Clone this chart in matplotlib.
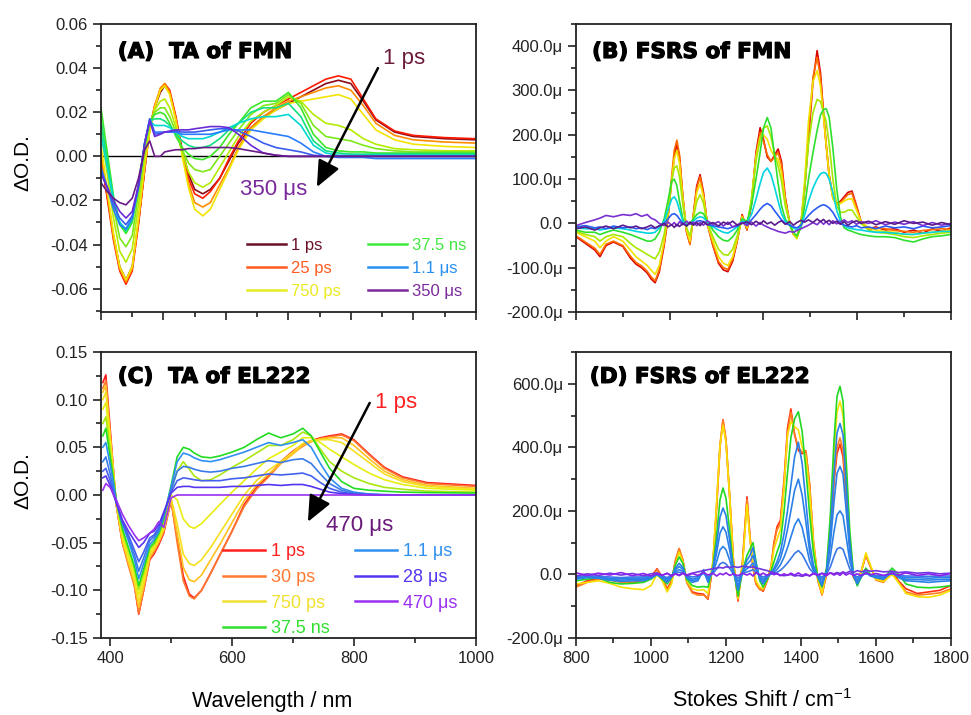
import numpy as np
import matplotlib.pyplot as plt
import matplotlib.patheffects as pe
from matplotlib.lines import Line2D
from matplotlib.ticker import MultipleLocator, FormatStrFormatter, FuncFormatter

plt.rcParams['font.family'] = ['Liberation Sans', 'DejaVu Sans']
plt.rcParams['axes.unicode_minus'] = False

# -----------------------------
# (A) TA of FMN, values in mOD
# -----------------------------
A_WL = [400, 410, 420, 430, 440, 450, 460, 470, 478, 486, 495, 502, 510, 520, 530, 540, 550,
        563, 575, 590, 605, 620, 640, 660, 680, 700, 720, 740, 760, 780, 800, 820, 840, 870,
        900, 950, 1000]
A_1ps = [-2, -18, -36, -50, -56, -50, -30, -6, 12, 22, 29, 32, 29, 17, 3, -8, -15, -17, -15, -10,
         -2, 6, 13, 18, 21, 24, 27, 30, 33, 34.5, 33, 25, 16.5, 11, 9, 8, 7.5]
A_25ps = [0, -19, -38, -52, -58, -52, -31, -6, 13, 23, 30, 33, 30, 18, 2, -10, -17, -19, -16, -10,
          -1, 7, 15, 20, 23, 26, 29, 32, 35, 36.5, 35, 26, 17, 11.5, 9.5, 8.5, 8]
A_200ps = [2, -17, -37, -51, -57, -51, -30, -5, 12, 23, 31, 33, 29, 17, 1, -12, -21, -23, -21, -13,
           -5, 4, 13, 18, 22, 25, 27, 29, 31, 32, 30, 23, 15, 9.5, 7.5, 6.5, 6]
A_750ps = [5, -15, -35, -50, -56, -50, -28, -4, 11, 22, 30, 32, 28, 16, 0, -14, -24, -27, -24, -15,
           -6, 3, 12, 17, 21, 24, 25, 26, 27, 28, 26, 19, 12, 7.5, 5.5, 4.5, 4]
A_5ns = [12, -8, -28, -43, -48, -42, -22, 0, 14, 21, 25, 26, 22, 13, 2, -7, -12, -14, -12, -5,
         2, 9, 16, 20, 23, 27, 25, 19, 15, 14, 12, 8, 5.5, 3.5, 3, 2.5, 2.5]
A_15ns = [17, -3, -23, -37, -41, -36, -17, 3, 15, 20, 22, 22, 18, 11, 3, -3, -6, -7, -6, 0,
          6, 12, 19, 23, 24, 28, 24, 14, 9, 8, 7, 5, 3.5, 2.5, 2, 2, 2]
A_37ns = [22, 2, -18, -31, -35, -30, -13, 6, 16, 19, 20, 19, 15, 9, 4, 1, -1, -1.5, 0, 4,
          10, 15, 22, 25, 25, 29, 22, 10, 4, 2.5, 2, 2, 1.5, 1.5, 1.5, 1.5, 1.5]
A_100ns = [16, -2, -19, -30, -34, -29, -13, 6, 16, 17, 17, 16, 14, 10, 7, 5, 4, 4, 5, 8,
           12, 15, 20, 22, 22, 24, 18, 7, 2.5, 1.5, 1, 1, 1, 1, 1, 1, 1]
A_300ns = [10, -5, -20, -30, -33, -28, -13, 6, 16, 14, 14, 14, 13, 11, 9, 8, 8, 8, 9, 11,
           13, 15, 17, 18, 18, 19, 14, 5, 1.5, 0.5, 0.5, 0.5, 0.5, 0.5, 0.5, 0.5, 0.5]
A_1us = [-5, -14, -24, -31, -33, -28, -14, 6, 17, 11, 11, 11, 11, 11, 10, 10, 10, 10, 10, 11,
         12, 12, 12, 11, 10, 9, 6, 2, 0, -0.5, -0.5, -0.5, -1, -1, -1, -1, -1]
A_3us = [-7, -14, -22, -28, -31, -27, -14, 6, 17, 10, 10.5, 11, 11, 11.5, 11, 11, 11, 11.5, 12, 12.5,
         12.5, 11.5, 9, 6, 4, 3, 2, 0.5, 0, 0, 0, 0, 0, 0, 0, 0, 0]
A_350us = [-8, -14, -20, -25, -28, -25, -13, 6, 16, 9, 10, 11, 11.5, 12, 12, 12, 12.5, 13, 13.5, 13.5,
           13, 10, 5, 1.5, 0.5, 0, 0, 0, 0, 0, 0, 0, 0, 0, 0, 0, 0]
A_late = [-12, -16, -19, -21, -22, -19, -10, 3, 7, 0, 0, 2, 2.5, 3, 3, 3.5, 3.5, 4, 4, 4,
          4, 3.5, 2.5, 1.5, 0.5, 0, 0, 0, 0, 0, 0, 0, 0, 0, 0, 0, 0]
A_SERIES = [A_1ps, A_25ps, A_200ps, A_750ps, A_5ns, A_15ns, A_37ns, A_100ns, A_300ns, A_1us,
            A_3us, A_350us, A_late]
A_COLORS = ['#8b0a1a', '#ff1a00', '#ff8c00', '#f2e400', '#b4ec00', '#7ce818', '#3ce628',
            '#10e080', '#00d8d0', '#2a7cff', '#3a5cf0', '#6a2ad8', '#6a1a86']
A_LEG_LABELS = ['1 ps', '25 ps', '750 ps', '37.5 ns', '1.1 μs', '350 μs']
A_LEG_COLORS = ['#6b1028', '#ff5a20', '#eaea20', '#40e840', '#2890f0', '#7a2a9a']

# -----------------------------
# (C) TA of EL222, values in mOD
# -----------------------------
C_WL = [388, 393, 400, 410, 420, 430, 440, 447, 455, 465, 472, 480, 488, 500, 510, 520, 530, 538,
        550, 565, 580, 600, 620, 640, 660, 680, 700, 716, 730, 745, 760, 780, 800, 825, 850, 880,
        920, 1000]
C_1ps = [118, 126, 70, -10, -50, -72, -95, -125, -100, -68, -62, -52, -40, -6, -45, -85, -104, -108,
         -100, -82, -63, -38, -10, 8, 20, 35, 46, 53, 57, 60, 62, 64, 58, 43, 29, 19, 13, 10]
C_30ps = [112, 120, 65, -10, -50, -74, -96, -124, -100, -67, -60, -50, -38, -5, -50, -90, -106, -109,
          -100, -82, -63, -38, -12, 6, 19, 33, 44, 51, 56, 59, 61, 63, 57, 42, 28, 18, 12, 9]
C_200ps = [108, 115, 62, -9, -48, -71, -93, -118, -96, -65, -58, -49, -37, -4, -40, -76, -89, -91,
           -84, -68, -52, -29, -6, 10, 22, 33, 43, 52, 56, 59, 60, 60, 52, 38, 25, 16, 10, 7]
C_750ps = [100, 108, 60, -8, -45, -68, -90, -112, -92, -62, -56, -47, -35, -3, -30, -62, -72, -74,
           -68, -55, -40, -20, 0, 15, 26, 35, 45, 54, 57, 58, 58, 55, 46, 34, 22, 14, 9, 6]
C_3ns = [90, 97, 55, -7, -42, -63, -84, -105, -87, -60, -54, -45, -32, 0, -5, -25, -33, -35,
         -30, -20, -10, 3, 15, 27, 38, 45, 52, 60, 60, 55, 48, 40, 32, 23, 16, 11, 7, 5]
C_10ns = [75, 82, 47, -6, -38, -58, -78, -99, -82, -57, -52, -42, -28, 5, 25, 35, 27, 20,
          15, 16, 21, 29, 36, 44, 52, 52, 58, 66, 62, 48, 35, 25, 18, 12, 8, 6, 4, 3]
C_37ns = [62, 70, 40, -5, -35, -55, -75, -95, -78, -55, -50, -40, -25, 10, 40, 50, 48, 44,
          40, 39, 41, 45, 50, 58, 65, 60, 64, 70, 62, 45, 28, 14, 7, 5, 4, 3, 2.5, 2]
C_1us = [50, 55, 32, -5, -30, -48, -68, -88, -72, -52, -47, -38, -22, 8, 35, 44, 42, 39,
         36, 35, 37, 41, 45, 50, 55, 52, 55, 58, 50, 33, 18, 7, 3, 1, 0.5, 0, 0, 0]
C_5us = [35, 40, 22, -7, -29, -45, -63, -80, -66, -48, -44, -36, -21, 5, 25, 30, 29, 27,
         25, 24, 25, 28, 30, 33, 36, 34, 37, 38, 33, 22, 12, 5, 2, 1, 0, 0, 0, 0]
C_12us = [25, 28, 15, -8, -28, -42, -58, -70, -60, -45, -42, -34, -20, 3, 15, 18, 17, 16,
          15, 15, 15, 17, 18, 20, 22, 21, 22, 23, 20, 13, 7, 3, 1, 0.5, 0, 0, 0, 0]
C_28us = [18, 20, 10, -8, -26, -38, -48, -55, -50, -40, -38, -31, -18, 2, 8, 9, 9, 8,
          8, 8, 8, 9, 9, 10, 11, 10, 11, 11, 9, 6, 3, 1.5, 0.5, 0, 0, 0, 0, 0]
C_470us = [5, 12, 8, -5, -20, -32, -42, -48, -45, -40, -36, -28, -34, -3, 0, 0, 0, 0,
           0, 0, 0, 0, 0, 0, 0, 0, 0, 0, 0, 0, 0, 0, 0, 0, 0, 0, 0, 0]
C_SERIES = [C_1ps, C_30ps, C_200ps, C_750ps, C_3ns, C_10ns, C_37ns, C_1us, C_5us, C_12us,
            C_28us, C_470us]
C_COLORS = ['#ff1a1a', '#ff7a30', '#ffc020', '#f5e020', '#e8ee10', '#a8e810', '#22dc22',
            '#3090f0', '#3a7ae8', '#4460ee', '#5535f0', '#9a30f0']
C_LEG_LABELS = ['1 ps', '30 ps', '750 ps', '37.5 ns', '1.1 μs', '28 μs', '470 μs']
C_LEG_COLORS = ['#ff2020', '#ff7a30', '#f0e030', '#30e030', '#3090f0', '#5535f0', '#9a30f0']

# -----------------------------
# (B) FSRS of FMN, values in micro-units
# -----------------------------
B_SHIFT = [800, 825, 850, 864, 880, 900, 925, 945, 960, 975, 990, 1000, 1011, 1022, 1035, 1045,
           1055, 1062, 1069, 1076, 1085, 1095, 1104, 1113, 1122, 1131, 1140, 1150, 1165, 1180,
           1193, 1205, 1218, 1230, 1243, 1256, 1268, 1280, 1291, 1300, 1310, 1320, 1330, 1339,
           1348, 1358, 1370, 1380, 1389, 1400, 1410, 1420, 1432, 1443, 1452, 1460, 1467, 1475,
           1485, 1495, 1505, 1515, 1525, 1536, 1548, 1560, 1580, 1600, 1625, 1650, 1675, 1700,
           1725, 1750, 1775, 1800]
B_red = [-30, -45, -60, -75, -50, -42, -52, -78, -92, -100,
         -112, -125, -134, -110, -50, 10, 95, 150, 178, 150,
         60, -20, -45, 20, 85, 110, 70, 0, -50, -90,
         -105, -109, -85, -40, 20, -15, 45, 160, 216, 190,
         150, 140, 155, 168, 140, 60, 0, -25, -30, 0,
         80, 190, 320, 390, 340, 250, 180, 110, 60, 45,
         50, 60, 70, 73, 40, 5, -12, -8, -15, -12,
         -20, -15, -22, -12, -18, -10]
B_orange = [-28, -42, -56, -70, -47, -40, -50, -74, -88, -96,
            -108, -120, -130, -105, -45, 15, 105, 165, 188, 155,
            58, -20, -48, 18, 80, 105, 65, 0, -48, -86,
            -100, -104, -80, -38, 18, -14, 45, 155, 205, 185,
            155, 140, 150, 160, 132, 55, 0, -25, -32, 0,
            85, 200, 330, 375, 330, 245, 178, 108, 58, 42,
            47, 56, 65, 68, 37, 4, -14, -10, -12, -16,
            -18, -20, -16, -14, -12, -14]
B_yellow = [-20, -30, -40, -55, -40, -30, -40, -60, -75, -85,
            -95, -105, -115, -95, -40, 20, 95, 145, 165, 135,
            55, -15, -40, 15, 70, 90, 60, 0, -40, -75,
            -90, -95, -75, -35, 15, -10, 55, 150, 195, 200,
            190, 165, 150, 145, 115, 50, 0, -25, -35, 0,
            100, 230, 320, 345, 310, 240, 180, 110, 55, 45,
            45, 50, 55, 55, 30, 5, -10, -15, -18, -20,
            -25, -25, -22, -20, -18, -15]
B_ygreen = [-18, -25, -30, -40, -30, -25, -30, -45, -55, -62,
            -70, -75, -80, -65, -25, 25, 95, 125, 130, 105,
            42, -10, -28, 12, 50, 65, 45, 2, -30, -58,
            -70, -72, -58, -28, 12, -5, 55, 140, 190, 215,
            220, 195, 155, 130, 95, 40, 0, -22, -32, -5,
            80, 180, 250, 280, 275, 250, 230, 180, 100, 40,
            25, 25, 30, 30, 15, 0, -15, -20, -22, -25,
            -30, -32, -28, -25, -22, -20]
B_green = [-15, -20, -20, -25, -20, -15, -20, -25, -30, -35,
           -40, -40, -35, -20, 10, 50, 95, 100, 85, 50,
           10, -5, 0, 10, 20, 25, 22, 5, -15, -30,
           -38, -40, -30, -15, 10, 5, 40, 100, 160, 215,
           239, 215, 150, 90, 40, 10, -5, -20, -28, -10,
           40, 100, 160, 210, 245, 257, 259, 240, 170, 80,
           15, -10, -15, -18, -22, -25, -28, -30, -30, -32,
           -38, -42, -35, -30, -28, -25]
B_cyan = [-10, -12, -12, -15, -12, -10, -12, -15, -18, -20,
          -22, -22, -20, -10, 5, 30, 55, 60, 50, 30,
          5, -3, 0, 5, 12, 15, 13, 3, -8, -15,
          -20, -22, -15, -8, 5, 3, 20, 55, 90, 115,
          125, 110, 80, 50, 22, 5, -3, -10, -15, -5,
          20, 50, 80, 100, 112, 115, 113, 100, 70, 30,
          5, -5, -10, -12, -14, -15, -18, -20, -20, -22,
          -24, -25, -22, -20, -18, -18]
B_blue = [-8, -5, -10, -8, -12, -6, -10, -8, -12, -10,
          -14, -10, -12, -5, 0, 10, 20, 22, 18, 10,
          0, -5, 2, -2, 5, 6, 4, -3, -5, -8,
          -10, -12, -8, -6, 2, -2, 8, 20, 32, 40,
          45, 40, 28, 18, 8, 0, -4, -8, -10, -4,
          8, 18, 28, 35, 40, 42, 40, 35, 25, 10,
          0, -4, -6, -8, -5, -10, -8, -12, -6, -10,
          -8, -12, -6, -10, -8, -5]
B_purple = [-5, 2, 8, 12, 18, 15, 20, 18, 22, 16,
            20, 12, 8, 0, -5, 3, -4, 2, -6, 4,
            -3, 5, -2, 3, -5, 2, -4, 6, -2, 4,
            -6, 3, -8, -3, 2, -5, 3, -6, 2, -4,
            -8, -12, -15, -18, -20, -22, -18, -20, -16, -12,
            -8, -4, 2, -3, 5, -2, 4, -3, 6, -1,
            3, 8, 2, 6, -2, 4, 0, 6, -3, 3,
            -2, 4, -5, 2, -4, 0]
B_dpurple = [-12, -8, -15, -10, -6, -12, -4, -10, -6, -12,
             -8, -4, -10, -6, 0, -8, -3, -9, -2, -7,
             0, -6, 3, -4, 2, -5, 4, -3, 2, -6,
             3, -2, 5, -4, 0, 4, -3, 5, -2, 6,
             -1, 3, -4, 2, 6, -2, 4, -4, 2, 7,
             3, 8, 2, 10, 4, 9, 3, 7, 0, 5,
             -2, 4, -4, 2, 6, 0, 5, -3, 4, -2,
             6, 0, 3, -4, 2, -3]
B_SERIES = [B_red, B_orange, B_yellow, B_ygreen, B_green, B_cyan, B_blue, B_purple, B_dpurple]
B_COLORS = ['#d80000', '#ff6a00', '#f2e200', '#a6e800', '#2ee02e', '#00d4e0', '#2a5cf5',
            '#7a30d0', '#5a1a8c']

# -----------------------------
# (D) FSRS of EL222, values in micro-units
# -----------------------------
D_SHIFT = [800, 830, 860, 890, 920, 950, 980, 1000, 1016, 1030, 1043, 1055, 1065, 1075, 1085,
           1095, 1110, 1125, 1140, 1152, 1165, 1175, 1184, 1192, 1200, 1210, 1220, 1232, 1244,
           1256, 1264, 1272, 1280, 1290, 1299, 1310, 1320, 1328, 1336, 1345, 1355, 1364, 1373,
           1383, 1393, 1403, 1413, 1423, 1433, 1445, 1456, 1468, 1478, 1488, 1496, 1504, 1512,
           1520, 1530, 1540, 1550, 1562, 1573, 1585, 1600, 1620, 1643, 1660, 1680, 1710, 1740,
           1770, 1800]
D_red = [-35, -20, -12, -15, -22, -25, -20, -8, 18, -8,
         -45, -20, 40, 80, 45, -20, -55, -60, -62, -78,
         30, 210, 400, 487, 420, 240, 40, -84, 40, 244,
         120, 20, -30, -45, -53, -20, 20, 100, 150, 170,
         300, 460, 521, 440, 390, 380, 385, 280, 100, -20,
         -63, 0, 120, 290, 380, 410, 370, 250, 90, -10,
         -25, 15, 60, 25, -15, -20, 10, -20, -45, -60,
         -55, -50, -35]
D_orange = [-40, -25, -15, -18, -25, -28, -22, -10, 15, -10,
            -50, -22, 45, 82, 45, -25, -58, -65, -65, -75,
            35, 220, 410, 485, 425, 245, 40, -80, 35, 235,
            115, 25, -30, -48, -50, -15, 25, 100, 140, 160,
            280, 440, 510, 440, 400, 385, 390, 285, 110, -15,
            -65, 0, 130, 300, 400, 430, 390, 260, 95, -10,
            -28, 15, 62, 25, -18, -25, 5, -25, -55, -65,
            -62, -58, -45]
D_yellow = [-30, -25, -20, -28, -40, -45, -48, -35, 0, -20,
            -55, -30, 30, 70, 40, -20, -45, -50, -48, -60,
            40, 225, 405, 470, 415, 240, 35, -75, 30, 220,
            110, 40, -20, -40, -45, -15, 20, 80, 110, 140,
            280, 440, 480, 465, 455, 400, 370, 260, 100, -15,
            -60, 10, 160, 380, 510, 545, 500, 330, 120, -5,
            -25, 15, 68, 30, -15, -22, 0, -25, -60, -70,
            -72, -65, -50]
D_green = [-20, -15, -10, -25, -30, -28, -25, -15, 0, -15,
           -30, -10, 30, 55, 35, -15, -35, -40, -38, -40,
           20, 125, 235, 272, 240, 135, 15, -68, 10, 60,
           80, 100, 40, -20, -40, -15, 10, 40, 70, 100,
           200, 320, 430, 490, 512, 450, 330, 190, 70, -10,
           -40, 20, 180, 420, 560, 592, 545, 370, 140, 0,
           -36, -5, 20, 0, -10, -15, 20, 0, -30, -40,
           -42, -40, -35]
D_blue1 = [-15, -10, -12, -18, -22, -20, -20, -12, 0, -12,
           -25, -8, 20, 35, 22, -10, -25, -20, 15, -25,
           15, 95, 180, 209, 185, 105, 10, -50, 10, 45,
           60, 85, 35, -15, -30, -10, 5, 20, 40, 70,
           130, 200, 280, 370, 416, 350, 230, 100, 30, -8,
           -35, 10, 130, 320, 445, 475, 440, 290, 100, -5,
           -30, -5, 10, -5, -10, -15, 10, -10, -20, -22,
           -25, -22, -20]
D_blue2 = [-12, -8, -10, -15, -18, -16, -16, -10, 0, -10,
           -20, -6, 14, 25, 16, -8, -20, -15, 10, -18,
           10, 68, 130, 150, 133, 75, 6, -36, 6, 32,
           42, 60, 25, -10, -22, -8, 3, 14, 28, 50,
           92, 142, 200, 265, 300, 250, 165, 72, 20, -6,
           -25, 6, 92, 228, 318, 340, 315, 208, 72, -4,
           -22, -4, 6, -4, -8, -12, 6, -8, -15, -16,
           -18, -16, -15]
D_blue3 = [-10, -6, -8, -12, -14, -12, -12, -8, 0, -8,
           -15, -5, 8, 15, 10, -5, -15, -10, 6, -12,
           6, 40, 77, 88, 78, 44, 3, -22, 4, 18,
           25, 36, 14, -6, -15, -5, 2, 8, 16, 30,
           55, 84, 118, 155, 175, 148, 96, 42, 12, -4,
           -15, 4, 55, 135, 187, 200, 185, 122, 42, -2,
           -14, -2, 4, -2, -6, -8, 4, -5, -10, -10,
           -12, -10, -10]
D_blue4 = [-6, -4, -6, -8, -10, -8, -8, -5, 0, -5,
           -10, -3, 4, 7, 5, -3, -8, -6, 3, -7,
           3, 17, 33, 38, 33, 19, 1, -12, 2, 8,
           11, 15, 6, -3, -8, -3, 1, 4, 7, 13,
           24, 36, 50, 66, 75, 63, 41, 18, 5, -2,
           -8, 2, 23, 57, 80, 85, 79, 52, 18, -1,
           -8, -1, 2, -1, -3, -4, 2, -3, -5, -5,
           -6, -5, -5]
D_violet = [-5, 2, -3, 4, -2, 3, -4, 2, 5, -2,
            3, -3, 2, -4, 3, -2, 4, 8, 12, 15,
            18, 20, 22, 20, 24, 22, 25, 22, 26, 24,
            22, 24, 20, 18, 15, 12, 8, 5, 2, -2,
            -4, -2, 0, -5, -3, -6, -2, -4, 2, -3,
            4, 0, 5, 2, 6, 3, 8, 4, 10, 6,
            12, 8, 14, 10, 12, 8, 10, 6, 8, 4,
            6, 2, 4]
D_purple = [5, -3, 4, -2, 6, -4, 3, -5, 2, -3,
            4, -6, 2, -2, 5, -4, 3, -3, 6, -2,
            4, -5, 3, -1, 5, -3, 2, -4, 4, -2,
            3, -5, 6, -2, 4, -3, 5, -1, 3, -4,
            2, -3, 4, -2, 5, -3, 2, -5, 4, -1,
            3, -4, 5, -2, 3, -3, 6, -2, 4, -3,
            2, -4, 5, -1, 3, -3, 4, -2, 5, -3,
            2, -4, 3]
D_SERIES = [D_red, D_orange, D_yellow, D_green, D_blue1, D_blue2, D_blue3, D_blue4, D_violet, D_purple]
D_COLORS = ['#ff3010', '#ff8020', '#f8e000', '#22d822', '#2a80e8', '#2a80e8', '#2a80e8',
            '#3a78e8', '#7036e0', '#8a22ec']

HEAVY = [pe.withStroke(linewidth=0.9, foreground='black')]


def style_axes(ax):
    for s in ax.spines.values():
        s.set_linewidth(1.3)
        s.set_color('#222222')
    ax.tick_params(which='both', direction='out', top=False, right=False, width=1.2,
                   colors='#222222', labelsize=12)
    ax.tick_params(which='major', length=6)
    ax.tick_params(which='minor', length=3.5)


def micro_fmt(v, pos):
    if abs(v) < 1e-9:
        return '0.0'
    return f'{v:.1f}μ'


def add_legend(ax, labels, colors, anchor, fs, spacing, colsp):
    handles = [Line2D([], [], color=c, lw=1.8) for c in colors]
    leg = ax.legend(handles, labels, ncol=2, loc='upper left', bbox_to_anchor=anchor,
                    frameon=False, fontsize=fs, handlelength=2.35, handletextpad=0.3,
                    columnspacing=colsp, labelspacing=spacing, borderpad=0, borderaxespad=0)
    for t, c in zip(leg.get_texts(), colors):
        t.set_color(c)


def panel_title(ax, x, y, label):
    ax.text(x, y, label, transform=ax.transAxes, fontsize=15.5, fontweight='bold',
            family='DejaVu Sans', va='center', path_effects=HEAVY)


fig = plt.figure(figsize=(9.71, 7.15), dpi=100)
axA = fig.add_axes([0.104, 0.5636, 0.386, 0.4028])
axB = fig.add_axes([0.5932, 0.5636, 0.3862, 0.4028])
axC = fig.add_axes([0.104, 0.1077, 0.386, 0.400])
axD = fig.add_axes([0.5932, 0.1077, 0.3862, 0.400])

# --- panel A ---
axA.axhline(0, color='k', lw=1.0, zorder=1)
for ys, c in zip(A_SERIES, A_COLORS):
    axA.plot(A_WL, np.array(ys) / 1000, color=c, lw=1.2)
axA.set_xlim(400, 1000)
axA.set_ylim(-0.0706, 0.06)
axA.xaxis.set_major_locator(MultipleLocator(100))
axA.xaxis.set_minor_locator(MultipleLocator(50))
axA.yaxis.set_major_locator(MultipleLocator(0.02))
axA.yaxis.set_minor_locator(MultipleLocator(0.01))
axA.yaxis.set_major_formatter(FormatStrFormatter('%.2f'))
style_axes(axA)
axA.tick_params(labelbottom=False)
panel_title(axA, 0.045, 0.903, '(A)  TA of FMN')
axA.text(-0.209, 0.52, 'ΔO.D.', transform=axA.transAxes, rotation=90, fontsize=15,
         ha='center', va='center')
axA.annotate('', xy=(0.576, 0.434), xytext=(0.739, 0.847), xycoords='axes fraction',
             arrowprops=dict(arrowstyle='-|>,head_length=0.8,head_width=0.35', mutation_scale=20,
                             lw=1.8, color='k', shrinkA=0, shrinkB=0))
axA.text(0.808, 0.882, '1 ps', transform=axA.transAxes, fontsize=16, color='#6b1a3a',
         ha='center', va='center')
axA.text(0.461, 0.427, '350 μs', transform=axA.transAxes, fontsize=16, color='#7a2a9a',
         ha='center', va='center')
add_legend(axA, A_LEG_LABELS, A_LEG_COLORS, (0.39, 0.258), 12, 0.48, 1.6)

# --- panel B ---
for ys, c in zip(B_SERIES, B_COLORS):
    axB.plot(B_SHIFT, ys, color=c, lw=1.2)
axB.set_xlim(800, 1800)
axB.set_ylim(-200, 450)
axB.set_xticks(np.arange(800, 1801, 250))
axB.set_xticks(np.arange(925, 1800, 250), minor=True)
axB.yaxis.set_major_locator(MultipleLocator(100))
axB.yaxis.set_minor_locator(MultipleLocator(50))
axB.yaxis.set_major_formatter(FuncFormatter(micro_fmt))
style_axes(axB)
axB.tick_params(labelbottom=False)
panel_title(axB, 0.043, 0.903, '(B) FSRS of FMN')

# --- panel C ---
for ys, c in zip(C_SERIES, C_COLORS):
    axC.plot(C_WL, np.array(ys) / 1000, color=c, lw=1.2)
axC.set_xlim(385, 1000)
axC.set_ylim(-0.15, 0.15)
axC.xaxis.set_major_locator(MultipleLocator(200))
axC.xaxis.set_minor_locator(MultipleLocator(100))
axC.yaxis.set_major_locator(MultipleLocator(0.05))
axC.yaxis.set_minor_locator(MultipleLocator(0.025))
axC.yaxis.set_major_formatter(FormatStrFormatter('%.2f'))
style_axes(axC)
panel_title(axC, 0.045, 0.913, '(C)  TA of EL222')
axC.text(-0.209, 0.552, 'ΔO.D.', transform=axC.transAxes, rotation=90, fontsize=15,
         ha='center', va='center')
axC.annotate('', xy=(0.552, 0.406), xytext=(0.717, 0.822), xycoords='axes fraction',
             arrowprops=dict(arrowstyle='-|>,head_length=0.8,head_width=0.35', mutation_scale=20,
                             lw=1.8, color='k', shrinkA=0, shrinkB=0))
axC.text(0.787, 0.825, '1 ps', transform=axC.transAxes, fontsize=16, color='#ff2020',
         ha='center', va='center')
axC.text(0.69, 0.395, '470 μs', transform=axC.transAxes, fontsize=16, color='#6a1a7a',
         ha='center', va='center')
add_legend(axC, C_LEG_LABELS, C_LEG_COLORS, (0.325, 0.331), 13, 0.48, 1.4)

# --- panel D ---
for ys, c in zip(D_SERIES, D_COLORS):
    axD.plot(D_SHIFT, ys, color=c, lw=1.2)
axD.set_xlim(800, 1800)
axD.set_ylim(-200, 700)
axD.xaxis.set_major_locator(MultipleLocator(200))
axD.xaxis.set_minor_locator(MultipleLocator(100))
axD.yaxis.set_major_locator(MultipleLocator(200))
axD.yaxis.set_minor_locator(MultipleLocator(100))
axD.yaxis.set_major_formatter(FuncFormatter(micro_fmt))
style_axes(axD)
panel_title(axD, 0.037, 0.913, '(D) FSRS of EL222')

fig.text(272 / 971, 1 - 707 / 715, 'Wavelength / nm', fontsize=15.5, ha='center', va='baseline')
fig.text(762 / 971, 1 - 707 / 715, r'Stokes Shift / cm$^{\mathregular{-1}}$', fontsize=15.5,
         ha='center', va='baseline')

fig.savefig('out.png', dpi=100)
